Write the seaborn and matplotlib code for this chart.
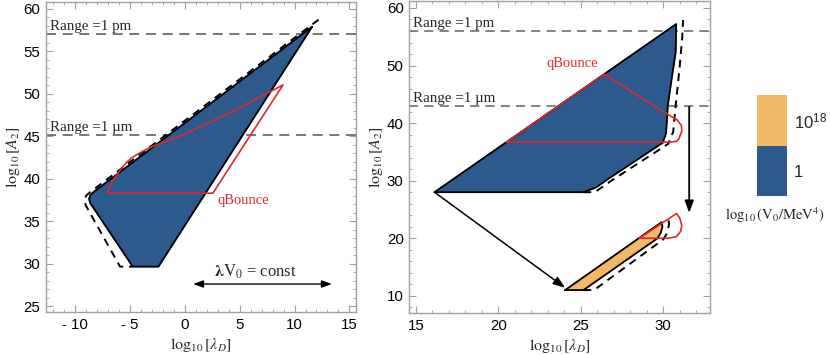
import matplotlib
matplotlib.use("Agg")
import matplotlib.pyplot as plt
from matplotlib.colors import ListedColormap, BoundaryNorm
from matplotlib.ticker import MultipleLocator, FuncFormatter
import seaborn as sns

# ---- left panel: V0 = 1 MeV^4 ----
left_region_x = [11.6, -8.3, -8.6, -8.72, -8.6, -4.74, -2.4, 11.6]
left_region_y = [57.9, 38.45, 38.1, 37.6, 37.1, 29.65, 29.65, 57.9]
left_dash_x = [12.2, -8.65, -9.0, -9.15, -9.0, -5.9, -4.74]
left_dash_y = [58.74, 38.4, 38.0, 37.4, 36.8, 29.65, 29.65]
left_qb_x = [-7.02, 2.56, 8.95, 6.5, 4.45, 2.0, -0.08, -1.5, -2.85, -3.6, -4.37,
             -4.9, -5.4, -5.9, -6.4, -6.8, -7.02]
left_qb_y = [38.3, 38.3, 51.05, 49.4, 48.0, 46.5, 45.2, 44.5, 43.85, 43.4, 42.85,
             42.4, 41.8, 41.0, 40.1, 39.1, 38.3]
left_range_y = [57.05, 45.15]

# ---- right panel: V0 = 1 and 1e18 MeV^4 ----
right_blue_x = [16.13, 30.78, 30.75, 30.5, 30.27, 30.17, 29.97, 26.6, 25.97, 25.16, 16.13]
right_blue_y = [28.0, 57.2, 52.3, 47.6, 43.0, 38.3, 36.6, 30.2, 28.9, 28.0, 28.0]
right_blue_dash_x = [25.16, 25.85, 26.8, 30.3, 30.6, 30.75, 31.0, 31.15, 31.2]
right_blue_dash_y = [28.0, 28.0, 29.9, 36.4, 38.5, 43.0, 50.0, 55.0, 57.9]
right_blue_qb_x = [20.52, 26.41, 30.27, 30.82, 31.1, 31.12, 30.95, 30.82, 30.41, 20.52]
right_blue_qb_y = [36.74, 48.49, 41.5, 40.6, 39.6, 38.6, 37.3, 36.86, 36.7, 36.74]
right_orange_x = [24.05, 25.16, 29.65, 29.85, 29.95, 29.9, 24.05]
right_orange_y = [11.0, 11.0, 20.0, 21.0, 22.0, 22.8, 11.0]
right_orange_dash_x = [25.16, 25.8, 30.0, 30.25, 30.35, 30.3]
right_orange_dash_y = [11.0, 11.0, 19.8, 21.0, 22.5, 23.3]
right_orange_qb_x = [28.55, 30.3, 30.8, 31.05, 31.12, 31.0, 30.8, 28.55]
right_orange_qb_y = [20.0, 20.0, 20.3, 21.2, 22.2, 23.5, 24.3, 20.0]
right_range_y = [56.05, 42.97]

cbar_labels = ["1", r"$10^{18}$"]

blue = "#2c5a8c"
orange = "#f1b868"
red = "#e0282c"
frame_gray = "#a0a0a0"

sns.set_theme(style="ticks")
plt.rcParams["font.family"] = ["Liberation Sans", "DejaVu Sans"]
plt.rcParams["mathtext.fontset"] = "stix"
# sans digits for the colour key labels only
plt.rcParams["mathtext.rm"] = "Liberation Sans"
plt.rcParams["mathtext.it"] = "Liberation Sans:italic"
plt.rcParams["mathtext.bf"] = "Liberation Sans:bold"

serif = ["Liberation Serif", "DejaVu Serif"]


def fmt_tick(v, pos):
    if v < 0:
        return "- %g" % abs(v)
    return "%g" % v


def style_axes(ax, xlim, ylim, xmaj, ymaj, xmin, ymin):
    ax.set_xlim(*xlim)
    ax.set_ylim(*ylim)
    ax.xaxis.set_major_locator(MultipleLocator(xmaj))
    ax.yaxis.set_major_locator(MultipleLocator(ymaj))
    ax.xaxis.set_minor_locator(MultipleLocator(xmin))
    ax.yaxis.set_minor_locator(MultipleLocator(ymin))
    ax.xaxis.set_major_formatter(FuncFormatter(fmt_tick))
    ax.yaxis.set_major_formatter(FuncFormatter(fmt_tick))
    ax.tick_params(which="both", direction="in", top=True, right=True,
                   color=frame_gray, labelsize=10.8, labelcolor="black", pad=4)
    ax.tick_params(which="major", length=5, width=0.8)
    ax.tick_params(which="minor", length=2.5, width=0.6)
    for s in ax.spines.values():
        s.set_color(frame_gray)
        s.set_linewidth(1.0)
    ax.set_xlabel(r"$\log_{10}[\lambda_D]$", fontsize=11.5, labelpad=3)
    ax.set_ylabel(r"$\log_{10}[A_2]$", fontsize=11.5, labelpad=1)


def outline(ax, x, y, color, ls="-", lw=1.4):
    sns.lineplot(x=x, y=y, sort=False, estimator=None, ax=ax,
                 color=color, linestyle=ls, lw=lw, legend=False)


fig = plt.figure(figsize=(8.3, 3.55), dpi=100)
ax1 = fig.add_axes([0.0554, 0.121, 0.3735, 0.873])
ax2 = fig.add_axes([0.4931, 0.118, 0.3623, 0.879])

# ---- left panel ----
for yv in left_range_y:
    ax1.axhline(yv, color="#606060", lw=1.2, ls=(0, (6, 4)), zorder=1)
ax1.text(-12.3, left_range_y[0] + 0.1, "Range =1 pm", family=serif, fontsize=10.8, va="bottom")
ax1.text(-12.3, left_range_y[1] + 0.1, "Range =1 µm", family=serif, fontsize=10.8, va="bottom")
ax1.fill(left_region_x, left_region_y, color=blue, zorder=2)
outline(ax1, left_region_x, left_region_y, "black", lw=1.3)
outline(ax1, left_dash_x, left_dash_y, "black", ls=(0, (4, 3)), lw=1.4)
outline(ax1, left_qb_x, left_qb_y, red, lw=1.2)
ax1.text(3.0, 37.4, "qBounce", color=red, family=serif, fontsize=10.5, va="center")
ax1.annotate("", xy=(13.66, 27.6), xytext=(0.5, 27.6),
             arrowprops=dict(arrowstyle="<|-|>,head_length=0.5,head_width=0.18",
                             color="black", lw=1.0))
ax1.text(6.4, 27.9, r"$\mathbf{\lambda}\mathrm{V_0}$ = const", family=serif,
         fontsize=12, ha="center", va="bottom")
style_axes(ax1, (-12.65, 15.6), (24.3, 60.8), 5, 5, 1, 1)

# ---- right panel ----
for yv in right_range_y:
    ax2.axhline(yv, color="#606060", lw=1.1, ls=(0, (6, 4)), zorder=1)
ax2.text(14.85, right_range_y[0] + 0.15, "Range =1 pm", family=serif, fontsize=10.8, va="bottom")
ax2.text(14.85, right_range_y[1] + 0.15, "Range =1 µm", family=serif, fontsize=10.8, va="bottom")
ax2.fill(right_blue_x, right_blue_y, color=blue, zorder=2)
outline(ax2, right_blue_x, right_blue_y, "black", lw=1.3)
outline(ax2, right_blue_dash_x, right_blue_dash_y, "black", ls=(0, (4, 3)), lw=1.4)
outline(ax2, right_blue_qb_x, right_blue_qb_y, red, lw=1.2)
ax2.fill(right_orange_x, right_orange_y, color=orange, zorder=2)
outline(ax2, right_orange_x, right_orange_y, "black", lw=1.3)
outline(ax2, right_orange_dash_x, right_orange_dash_y, "black", ls=(0, (4, 3)), lw=1.4)
outline(ax2, right_orange_qb_x, right_orange_qb_y, red, lw=1.2)
ax2.text(24.5, 50.4, "qBounce", color=red, family=serif, fontsize=10.5, ha="center", va="center")
ax2.annotate("", xy=(24.05, 11.4), xytext=(16.13, 28.0),
             arrowprops=dict(arrowstyle="-|>,head_length=0.6,head_width=0.22",
                             color="black", lw=1.1, shrinkA=0, shrinkB=0))
ax2.annotate("", xy=(31.57, 24.4), xytext=(31.57, 42.85),
             arrowprops=dict(arrowstyle="-|>,head_length=0.6,head_width=0.22",
                             color="black", lw=1.3, shrinkA=0, shrinkB=0))
style_axes(ax2, (14.6, 32.83), (7.0, 61.2), 5, 10, 1, 2)

# ---- colour key ----
cax = fig.add_axes([757 / 830, (355 - 196) / 355, 30 / 830, 101 / 355])
cmap = ListedColormap([blue, orange])
norm = BoundaryNorm([0, 1, 2], cmap.N)
cb = fig.colorbar(plt.cm.ScalarMappable(norm=norm, cmap=cmap), cax=cax, ticks=[0.5, 1.5])
cb.set_ticklabels(cbar_labels)
cb.outline.set_visible(False)
cax.minorticks_off()
cax.tick_params(which="both", length=0, labelsize=12, pad=5)
for t in cax.get_yticklabels():
    t.set_math_fontfamily("custom")
fig.text(775 / 830, 1 - 215 / 355, r"$\log_{10}(\mathrm{V_0/MeV^4})$", fontsize=10.5,
         ha="center", va="center")

fig.savefig("out.png", dpi=100)
